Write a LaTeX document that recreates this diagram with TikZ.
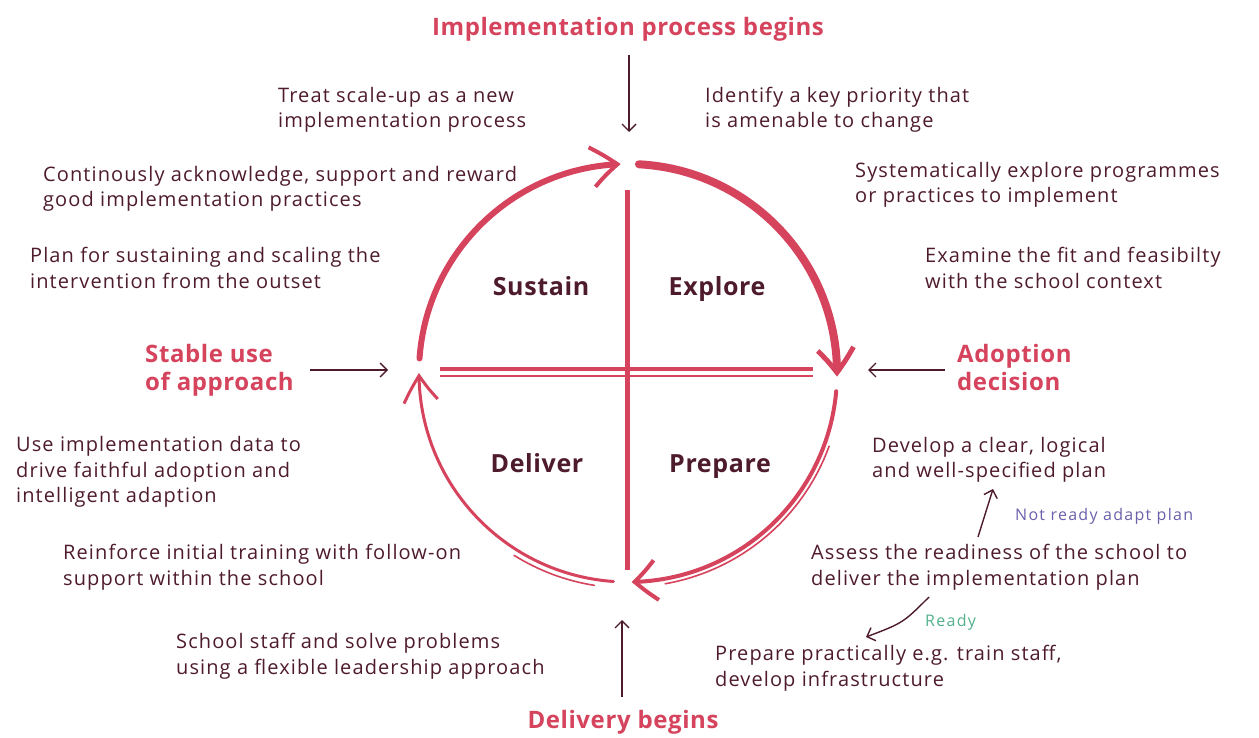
\documentclass[tikz,border=0pt]{standalone}
\usepackage{fontspec}
\setmainfont{Open Sans}
\newfontfamily\bodyfont[LetterSpace=5.5]{Open Sans}
\newfontfamily\titlefont[LetterSpace=2.5]{Open Sans}
\newfontfamily\notefont[LetterSpace=8]{Open Sans}
\usetikzlibrary{arrows.meta,calc,bending}
\definecolor{ered}{HTML}{D5435D}
\definecolor{edark}{HTML}{4E1B2D}
\definecolor{epurple}{HTML}{6A60AA}
\definecolor{egreen}{HTML}{52B08C}
\begin{document}
\begin{tikzpicture}[x=1pt,y=-1pt,
  body/.style={anchor=west, align=left, text=edark, inner sep=0pt, font=\bodyfont\fontsize{20}{25.5}\selectfont},
  title/.style={text=ered, inner sep=0pt, font=\titlefont\fontsize{24}{28}\selectfont\bfseries},
  quad/.style={anchor=base, text=edark, inner sep=0pt, font=\titlefont\fontsize{25}{28}\selectfont\bfseries},
  note/.style={inner sep=0pt, font=\notefont\fontsize{16}{18}\selectfont},
  pointer/.style={draw=edark, line width=1.4pt, -{Straight Barb[length=7pt,width=14pt]}},
  ring/.style={draw=ered, line cap=round},
  bar/.style={draw=ered, line width=5pt},
]
\useasboundingbox (0,0) rectangle (1259,738);

% centre of cycle
\coordinate (c) at (628,373);

% ---- cycle arcs (clockwise on screen = increasing angle, y down)
\draw[ring, line width=8pt, -{Straight Barb[length=24pt,width=36pt,line width=5pt,bend]}]
  ($(c)+(-87:209)$) arc[start angle=-87, end angle=1, radius=209];
\draw[ring, line width=4pt, -{Straight Barb[length=22pt,width=40pt,line width=4pt,bend]}]
  ($(c)+(5:209)$) arc[start angle=5, end angle=89, radius=209];
\draw[ring, line width=1.6pt] ($(c)+(20:214)$) arc[start angle=20, end angle=80, radius=214];
\draw[ring, line width=3pt, -{Straight Barb[length=26pt,width=34pt,line width=3pt,bend]}]
  ($(c)+(94:209)$) arc[start angle=94, end angle=180, radius=209];
\draw[ring, line width=1.6pt] ($(c)+(99:215)$) arc[start angle=99, end angle=122, radius=215];
\draw[ring, line width=6pt, -{Straight Barb[length=26pt,width=40pt,line width=4pt,bend]}]
  ($(c)+(184:209)$) arc[start angle=184, end angle=268, radius=209];

% ---- cross
\coordinate (vt) at (627,190);
\coordinate (vb) at (627,570);
\coordinate (hl) at (440,369);
\coordinate (hr) at (813,369);
\coordinate (hl2) at (440,376);
\coordinate (hr2) at (813,376);
\draw[ered, line width=3.5pt] (hl) -- (hr);
\draw[ered, line width=1.8pt] (hl2) -- (hr2);
\draw[bar] (vt) -- (vb);

% ---- quadrant labels
\node[quad] (sustain) at (541,295) {Sustain};
\node[quad] (explore) at (717,295) {Explore};
\node[quad] (deliver) at (537,472) {Deliver};
\node[quad] (prepare) at (720,472) {Prepare};

% ---- stage titles
\node[title] (impl) at (628,29) {Implementation process begins};
\node[title] (deliv) at (623,722) {Delivery begins};
\node[title, anchor=west, align=left] (stable) at (145,370) {Stable use\\of approach};
\node[title, anchor=west, align=left] (adopt) at (957,367) {Adoption\\decision};

\coordinate (implEnd) at (629,132);
\coordinate (delivEnd) at (622,620);
\coordinate (stableEnd) at (388,370);
\coordinate (adoptEnd) at (868,370);
\draw[pointer] (629,55) coordinate (implStart) -- (implEnd);
\draw[pointer] (622,697) coordinate (delivStart) -- (delivEnd);
\draw[pointer] (310,370) coordinate (stableStart) -- (stableEnd);
\draw[pointer] (945,370) coordinate (adoptStart) -- (adoptEnd);

% ---- descriptions
\node[body] (t1) at (278,110) {Treat scale-up as a new\\implementation process};
\node[body] (t2) at (705,110) {Identify a key priority that\\is amenable to change};
\node[body] (t3) at (43,189) {Continously acknowledge, support and reward\\good implementation practices};
\node[body] (t4) at (855,185) {Systematically explore programmes\\or practices to implement};
\node[body] (t5) at (30,268) {Plan for sustaining and scaling the\\intervention from the outset};
\node[body] (t6) at (925,268) {Examine the fit and feasibilty\\with the school context};
\node[body] (t7) at (16,472) {Use implementation data to\\drive faithful adoption and\\intelligent adaption};
\node[body] (t8) at (872,460) {Develop a clear, logical\\and well-specified plan};
\node[body] (t9) at (63,567) {Reinforce initial training with follow-on\\support within the school};
\node[body] (t10) at (811,567) {Assess the readiness of the school to\\deliver the implementation plan};
\node[body] (t11) at (176,656) {School staff and solve problems\\using a flexible leadership approach};
\node[body] (t12) at (715,668) {Prepare practically e.g. train staff,\\develop infrastructure};

\node[note, text=epurple, anchor=west] (notready) at (1015,516) {Not ready adapt plan};
\node[note, text=egreen, anchor=west] (ready) at (925,622) {Ready};

\coordinate (nrStart) at (978,537);
\coordinate (nrEnd) at (993,489);
\coordinate (rStart) at (929,597);
\coordinate (rEnd) at (866,637);
\draw[pointer] (nrStart) -- (nrEnd);
\draw[pointer] (rStart) .. controls (903,623) .. (rEnd);
\end{tikzpicture}
\end{document}
